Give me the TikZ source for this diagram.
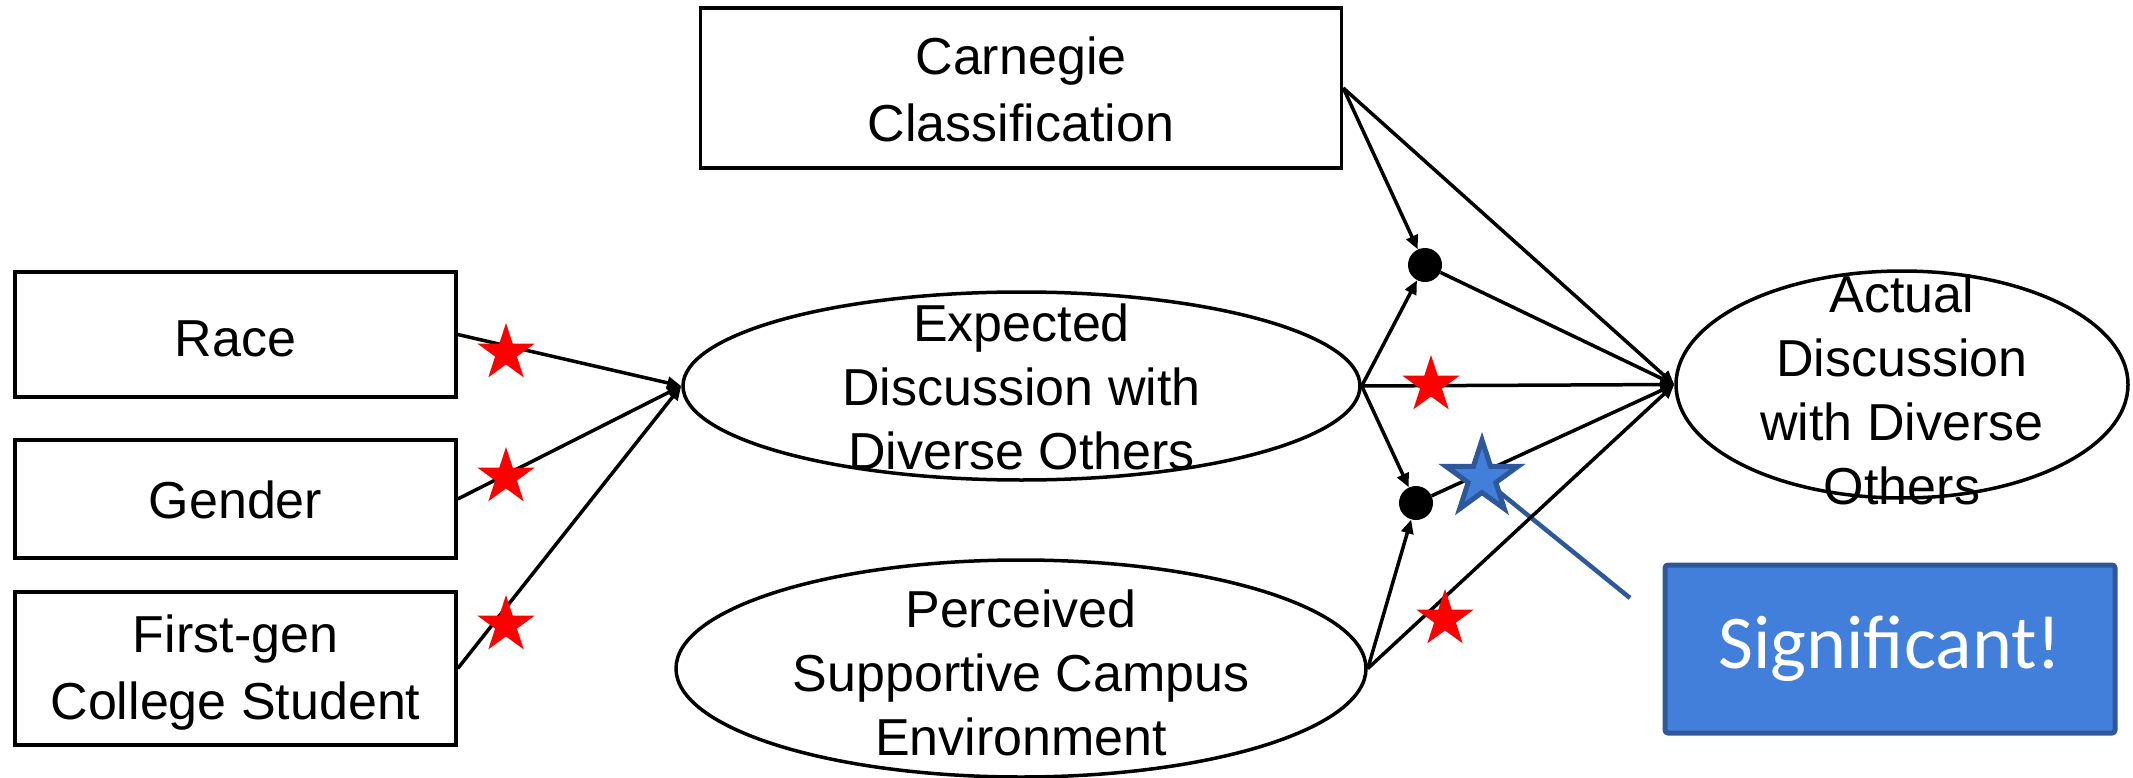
\documentclass[tikz,border=0pt]{standalone}
\usepackage{fontspec}
\setmainfont{Liberation Sans}
\newfontfamily\calloutfont{Carlito}
\usetikzlibrary{shapes.geometric,arrows.meta,backgrounds}
\definecolor{sigfill}{RGB}{65,127,219}
\definecolor{sigedge}{RGB}{47,88,155}
\begin{document}
\begin{tikzpicture}[x=1pt,y=-1pt,
  every node/.style={inner sep=0pt},
  lbl/.style={font=\fontsize{52}{64}\selectfont, align=center},
  boxlbl/.style={font=\fontsize{52}{67}\selectfont, align=center},
  varbox/.style={draw, line width=3.5pt, rectangle, minimum width=441pt},
  latent/.style={draw, line width=3.5pt, ellipse},
  junction/.style={circle, fill=black, minimum size=34pt},
  link/.style={line width=3.5pt, -{Triangle[length=14pt,width=12pt]}},
  redstar/.style={star, star points=5, star point ratio=2.618, fill=red, minimum size=60pt},
  bluestar/.style={star, star points=5, star point ratio=2.618, fill=sigfill, draw=sigedge, line width=5pt, minimum size=76pt}
]
\useasboundingbox (0,0) rectangle (2133,778);

% observed variables
\node[varbox, minimum width=641pt, minimum height=160pt] (carn) at (1021,88) {};
\node[boxlbl] (carnT) at ([yshift=-1pt]carn.center) {Carnegie\\Classification};
\node[varbox, minimum height=125pt] (race) at (235.5,334.5) {};
\node[boxlbl] (raceT) at ([yshift=-4pt]race.center) {Race};
\node[varbox, minimum height=118pt] (gender) at (235.5,499) {};
\node[boxlbl] (genderT) at ([yshift=-1pt]gender.center) {Gender};
\node[varbox, minimum height=153pt] (firstgen) at (235.5,668.5) {};
\node[boxlbl] (firstgenT) at ([yshift=-4pt]firstgen.center) {First-gen\\College Student};

% latent constructs
\node[latent, minimum width=677pt, minimum height=188pt] (expd) at (1021.5,386) {};
\node[lbl] (expdT) at ([yshift=-1pt]expd.center) {Expected\\Discussion with\\Diverse Others};
\node[latent, minimum width=690pt, minimum height=217pt] (perc) at (1021,668.5) {};
\node[lbl] (percT) at ([yshift=-4pt]perc.center) {Perceived\\Supportive Campus\\Environment};
\node[latent, minimum width=452pt, minimum height=227pt] (act) at (1902,384.5) {};
\node[lbl] (actT) at ([yshift=-5pt]act.center) {Actual\\Discussion\\with Diverse\\Others};

% interaction points
\node[junction] (dotU) at (1425,265) {};
\node[junction] (dotL) at (1416,503) {};

% paths
\draw[link] (race.east) -- (expd.west);
\draw[link] (gender.east) -- (expd.west);
\draw[link] (firstgen.east) -- (expd.west);
\draw[link] (carn.east) -- (dotU);
\draw[link] (expd.east) -- (dotU);
\draw[link] (expd.east) -- (dotL);
\draw[link] (perc.east) -- (dotL);
\draw[link] (carn.east) -- (act.west);
\draw[link] (dotU) -- (act.west);
\draw[link] (expd.east) -- (act.west);
\draw[link] (dotL) -- (act.west);
\draw[link] (perc.east) -- (act.west);

% significance markers
\node[redstar] (s1) at (506,353) {};
\node[redstar] (s2) at (506,477) {};
\node[redstar] (s3) at (506,625) {};
\node[redstar] (s4) at (1431,385) {};
\node[redstar] (s5) at (1445,619) {};

% callout
\node[bluestar] (bstar) at (1482,478) {};
\coordinate (calloutEnd) at (1630,598);
\begin{scope}[on background layer]
\draw[sigedge, line width=4.5pt] (bstar.center) -- (calloutEnd);
\end{scope}
\node[draw=sigedge, fill=sigfill, line width=5pt, rounded corners=3pt,
      minimum width=450pt, minimum height=168pt, text=white,
      font=\calloutfont\fontsize{76}{82}\selectfont] (sig) at (1890,649) {Significant!};
\end{tikzpicture}
\end{document}
